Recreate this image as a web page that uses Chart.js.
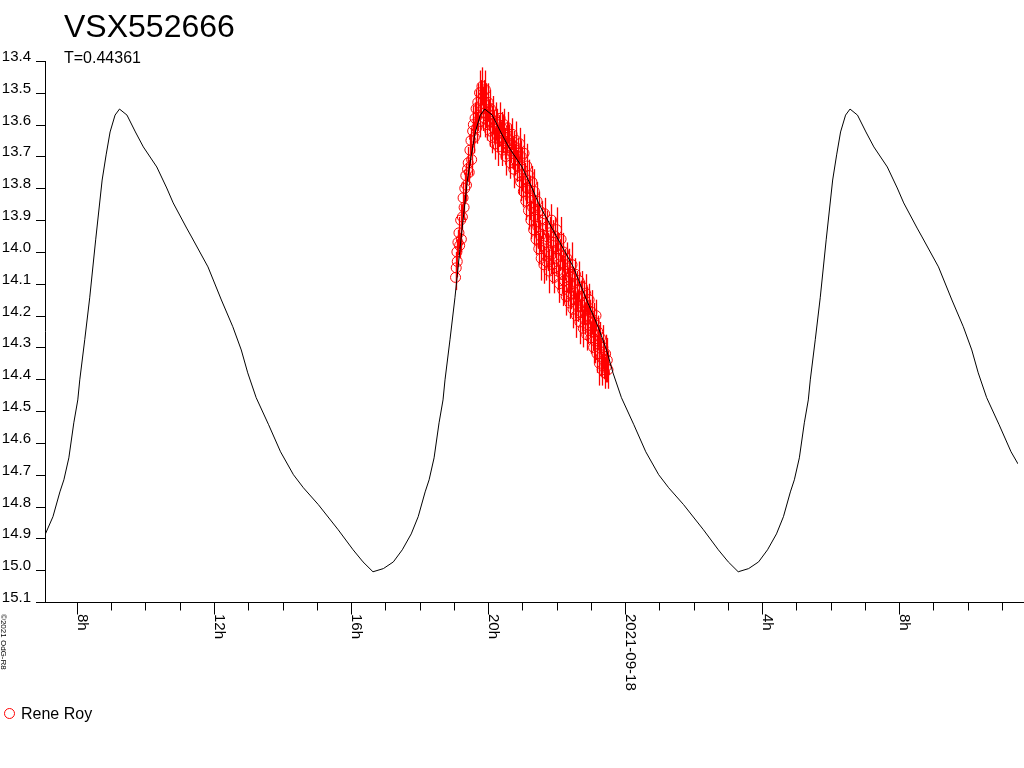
<!DOCTYPE html>
<html>
<head>
<meta charset="utf-8">
<script src="https://cdn.jsdelivr.net/npm/chart.js@4.4.1/dist/chart.umd.min.js"></script>
<style>
html,body{margin:0;padding:0;background:#fff;}
canvas{display:block;}
</style>
</head>
<body>
<canvas id="c" width="1024" height="768"></canvas>
<script>
// ---- Data (x in hours since 2021-09-17 00:00 UT, y in magnitude) ----
const titleText = "VSX552666";
const periodText = "T=0.44361";
const observerName = "Rene Roy";
const copyrightText = "\u00a92021 OdG-R8";

const xMin = 7.067, xMax = 35.468;
const yMin = 13.4, yMax = 15.1;

const xTickHours = [8,9,10,11,12,13,14,15,16,17,18,19,20,21,22,23,24,25,26,27,28,29,30,31,32,33,34,35];
const xLabelHours = [8,12,16,20,24,28,32];
const xLabels = ["8h","12h","16h","20h","2021-09-18","4h","8h"];
const yTicks = [13.4,13.5,13.6,13.7,13.8,13.9,14.0,14.1,14.2,14.3,14.4,14.5,14.6,14.7,14.8,14.9,15.0,15.1];
const yLabels = ["13.4","13.5","13.6","13.7","13.8","13.9","14.0","14.1","14.2","14.3","14.4","14.5","14.6","14.7","14.8","14.9","15.0","15.1"];

const curveHours = [7.067,7.299,7.502,7.618,7.763,7.908,8.024,8.082,8.227,8.372,8.546,8.735,8.851,8.967,9.112,9.242,9.460,9.706,9.938,10.330,10.620,10.809,11.201,11.346,11.824,12.216,12.549,12.796,12.985,13.231,13.594,13.942,14.319,14.609,15.045,15.625,16.060,16.350,16.640,16.945,17.235,17.496,17.757,17.960,18.163,18.279,18.424,18.569,18.685,18.743,18.888,19.033,19.207,19.396,19.512,19.628,19.773,19.904,20.121,20.368,20.600,20.992,21.282,21.470,21.862,22.007,22.486,22.877,23.211,23.457,23.646,23.893,24.255,24.603,24.980,25.271,25.706,26.286,26.721,27.011,27.301,27.606,27.896,28.157,28.418,28.621,28.824,28.940,29.086,29.231,29.347,29.405,29.550,29.695,29.869,30.058,30.174,30.289,30.435,30.565,30.783,31.029,31.261,31.653,31.943,32.132,32.523,32.668,33.147,33.539,33.872,34.119,34.307,34.554,34.917,35.265,35.468];
const curveMags = [14.889,14.832,14.754,14.716,14.647,14.537,14.465,14.402,14.276,14.144,13.962,13.774,13.695,13.623,13.570,13.551,13.570,13.623,13.670,13.733,13.799,13.846,13.925,13.953,14.047,14.151,14.235,14.308,14.380,14.458,14.543,14.628,14.700,14.741,14.794,14.873,14.936,14.974,15.005,14.995,14.974,14.936,14.886,14.832,14.754,14.716,14.647,14.537,14.465,14.402,14.276,14.144,13.962,13.774,13.695,13.623,13.570,13.551,13.570,13.623,13.670,13.733,13.799,13.846,13.925,13.953,14.047,14.151,14.235,14.308,14.380,14.458,14.543,14.628,14.700,14.741,14.794,14.873,14.936,14.974,15.005,14.995,14.974,14.936,14.886,14.832,14.754,14.716,14.647,14.537,14.465,14.402,14.276,14.144,13.962,13.774,13.695,13.623,13.570,13.551,13.570,13.623,13.670,13.733,13.799,13.846,13.925,13.953,14.047,14.151,14.235,14.308,14.380,14.458,14.543,14.628,14.666];

const obsHours = [19.05,19.07,19.09,19.10,19.12,19.15,19.17,19.20,19.22,19.25,19.27,19.30,19.32,19.35,19.37,19.40,19.42,19.45,19.47,19.50,19.52,19.55,19.57,19.60,19.62,19.65,19.67,19.70,19.72,19.75,19.77,19.80,19.82,19.85,19.87,19.90,19.92,19.95,19.97,20.00,20.02,20.05,20.07,20.10,20.12,20.15,20.17,20.20,20.22,20.25,20.27,20.30,20.32,20.35,20.37,20.40,20.42,20.45,20.47,20.50,20.52,20.55,20.57,20.60,20.62,20.65,20.67,20.70,20.72,20.75,20.77,20.80,20.82,20.85,20.87,20.90,
20.92,20.95,20.97,21.00,21.03,21.05,21.08,21.10,21.13,21.15,21.18,21.20,21.23,21.25,21.28,21.30,21.33,21.35,21.38,21.40,21.43,21.45,21.48,21.50,21.53,21.55,21.58,21.60,21.63,21.65,21.68,21.70,21.73,21.75,21.78,21.80,21.83,21.85,21.88,21.90,21.93,21.95,21.98,
22.00,22.03,22.05,22.08,22.10,22.13,22.15,22.18,22.20,22.23,22.25,22.28,22.30,22.33,22.35,22.38,22.40,22.43,22.45,22.48,22.50,22.53,22.55,22.58,22.60,22.63,22.65,22.68,22.70,22.73,22.75,22.78,22.80,22.83,22.85,22.88,22.90,22.93,22.95,22.98,
23.00,23.03,23.05,23.08,23.10,23.13,23.15,23.18,23.20,23.23,23.25,23.28,23.30,23.33,23.35,23.38,23.40,23.43,23.45,23.48,23.50];
const obsMags = [14.08,14.05,14.00,14.03,13.97,13.94,13.98,13.90,13.96,13.89,13.83,13.86,13.80,13.76,13.79,13.74,13.72,13.75,13.68,13.65,13.71,13.62,13.60,13.64,13.58,13.55,13.61,13.53,13.57,13.50,13.59,13.52,13.48,13.55,13.51,13.58,13.49,13.54,13.60,13.53,13.57,13.62,13.55,13.59,13.64,13.57,13.61,13.66,13.59,13.63,13.60,13.67,13.62,13.58,13.65,13.61,13.68,13.63,13.60,13.66,13.70,13.64,13.61,13.68,13.65,13.72,13.66,13.63,13.69,13.74,13.67,13.71,13.65,13.73,13.69,13.76,
13.66,13.78,13.70,13.74,13.81,13.69,13.77,13.84,13.73,13.80,13.87,13.76,13.83,13.90,13.78,13.86,13.93,13.81,13.89,13.96,13.84,13.92,13.99,13.87,13.95,14.02,13.90,13.98,14.04,13.88,13.96,14.03,13.92,14.00,14.06,13.94,14.01,13.90,14.04,13.97,14.08,13.95,14.02,
13.93,14.06,13.99,14.10,14.01,13.96,14.07,14.12,14.00,14.09,14.04,14.14,14.02,14.11,14.06,14.16,14.08,14.13,14.04,14.18,14.10,14.15,14.07,14.20,14.12,14.17,14.09,14.22,14.14,14.19,14.11,14.24,14.16,14.21,14.13,14.26,14.18,14.23,14.15,14.21,
14.27,14.19,14.25,14.30,14.22,14.28,14.20,14.32,14.25,14.29,14.35,14.27,14.33,14.37,14.30,14.34,14.38,14.32,14.36,14.34,14.37];
const obsErrs = [0.04,0.05,0.04,0.05,0.04,0.05,0.04,0.05,0.04,0.04,0.05,0.04,0.05,0.04,0.05,0.04,0.05,0.04,0.05,0.04,0.05,0.04,0.06,0.05,0.05,0.06,0.05,0.06,0.05,0.07,0.05,0.06,0.06,0.07,0.05,0.06,0.06,0.07,0.05,0.06,0.05,0.05,0.06,0.05,0.05,0.06,0.05,0.05,0.06,0.05,0.05,0.06,0.05,0.05,0.06,0.05,0.05,0.06,0.05,0.05,0.06,0.05,0.05,0.06,0.05,0.05,0.06,0.05,0.05,0.06,0.05,0.05,0.06,0.05,0.05,0.06,
0.05,0.06,0.05,0.07,0.05,0.06,0.05,0.06,0.07,0.05,0.06,0.05,0.07,0.06,0.05,0.06,0.05,0.07,0.06,0.05,0.06,0.07,0.05,0.06,0.05,0.07,0.06,0.05,0.06,0.05,0.07,0.06,0.05,0.06,0.07,0.05,0.06,0.05,0.06,0.07,0.05,0.06,0.05,0.07,0.06,0.05,0.06,0.05,0.07,0.06,0.05,0.06,0.07,0.05,0.06,0.05,0.06,0.07,0.05,0.06,0.05,0.07,0.06,0.05,0.06,0.05,0.07,0.06,0.05,0.06,0.07,0.05,0.06,0.05,0.06,0.07,0.05,0.06,0.05,0.07,0.06,0.05,0.06,0.05,0.07,0.06,0.05,0.06,0.07,0.05,0.06,0.05,0.06,0.07,0.05,0.06,0.05,0.07,0.06,0.05,0.06,0.05,0.07,0.06];

const FONT = '"Liberation Sans", Arial, sans-serif';

const curveData = curveHours.map((h, i) => ({x: h, y: curveMags[i]}));
const obsData = obsHours.map((h, i) => ({x: h, y: obsMags[i], e: (obsErrs[i] !== undefined ? obsErrs[i] : 0.05)}));

const errorBars = {
  id: 'errorBars',
  beforeDatasetsDraw(chart) {
    const ctx = chart.ctx, xs = chart.scales.x, ys = chart.scales.y;
    ctx.save();
    ctx.strokeStyle = '#ff0000';
    ctx.lineWidth = 1.3;
    obsData.forEach(p => {
      const px = Math.round(xs.getPixelForValue(p.x)) + 0.5;
      ctx.beginPath();
      ctx.moveTo(px, ys.getPixelForValue(p.y - p.e));
      ctx.lineTo(px, ys.getPixelForValue(p.y + p.e));
      ctx.stroke();
    });
    ctx.restore();
  }
};

const decor = {
  id: 'decor',
  afterDraw(chart) {
    const ctx = chart.ctx, xs = chart.scales.x, ys = chart.scales.y;
    const area = chart.chartArea;
    ctx.save();
    ctx.strokeStyle = '#000';
    ctx.fillStyle = '#000';
    ctx.lineWidth = 1;
    const ax = area.left + 0.5, ay = Math.round(area.bottom) + 0.5;
    ctx.beginPath();
    ctx.moveTo(ax, ys.getPixelForValue(yMin));
    ctx.lineTo(ax, ay);
    ctx.moveTo(36, ay);
    ctx.lineTo(1024, ay);
    ctx.stroke();
    ctx.font = '15px ' + FONT;
    ctx.textAlign = 'right';
    ctx.textBaseline = 'alphabetic';
    yTicks.forEach((v, i) => {
      const py = Math.round(ys.getPixelForValue(v)) + 0.5;
      ctx.beginPath();
      ctx.moveTo(36, py);
      ctx.lineTo(ax, py);
      ctx.stroke();
      ctx.fillText(yLabels[i], 31, py - 1);
    });
    xTickHours.forEach(h => {
      const px = Math.round(xs.getPixelForValue(h)) + 0.5;
      const major = xLabelHours.indexOf(h) >= 0;
      ctx.beginPath();
      ctx.moveTo(px, ay);
      ctx.lineTo(px, ay + (major ? 12 : 8));
      ctx.stroke();
    });
    ctx.textAlign = 'left';
    xLabelHours.forEach((h, i) => {
      const px = xs.getPixelForValue(h);
      ctx.save();
      ctx.translate(px + 1, 614);
      ctx.rotate(Math.PI / 2);
      ctx.fillText(xLabels[i], 0, 0);
      ctx.restore();
    });
    ctx.font = '8px ' + FONT;
    ctx.save();
    ctx.translate(1, 614);
    ctx.rotate(Math.PI / 2);
    ctx.fillText(copyrightText, 0, 0);
    ctx.restore();
    ctx.font = '32px ' + FONT;
    ctx.fillText(titleText, 64, 37);
    ctx.font = '16px ' + FONT;
    ctx.fillText(periodText, 64, 63);
    ctx.strokeStyle = '#ff0000';
    ctx.beginPath();
    ctx.arc(9.5, 713.5, 5, 0, Math.PI * 2);
    ctx.stroke();
    ctx.fillStyle = '#000';
    ctx.font = '16px ' + FONT;
    ctx.fillText(observerName, 21, 719);
    ctx.restore();
  }
};

new Chart(document.getElementById('c'), {
  type: 'scatter',
  data: {
    datasets: [
      {
        label: 'model',
        data: curveData,
        showLine: true,
        borderColor: '#000',
        borderWidth: 1,
        pointRadius: 0,
        tension: 0,
        fill: false
      },
      {
        label: observerName,
        data: obsData,
        showLine: false,
        pointStyle: 'circle',
        pointRadius: 5,
        pointBorderColor: '#ff0000',
        pointBackgroundColor: 'rgba(0,0,0,0)',
        pointBorderWidth: 1,
        borderColor: '#ff0000',
        backgroundColor: 'rgba(0,0,0,0)'
      }
    ]
  },
  options: {
    responsive: false,
    devicePixelRatio: 1,
    animation: false,
    layout: {padding: {left: 45, top: 61, right: 0, bottom: 166}},
    plugins: {legend: {display: false}, tooltip: {enabled: false}, title: {display: false}},
    scales: {
      x: {type: 'linear', min: xMin, max: xMax, display: false},
      y: {type: 'linear', min: yMin, max: yMax, reverse: true, display: false}
    }
  },
  plugins: [errorBars, decor]
});
</script>
</body>
</html>
